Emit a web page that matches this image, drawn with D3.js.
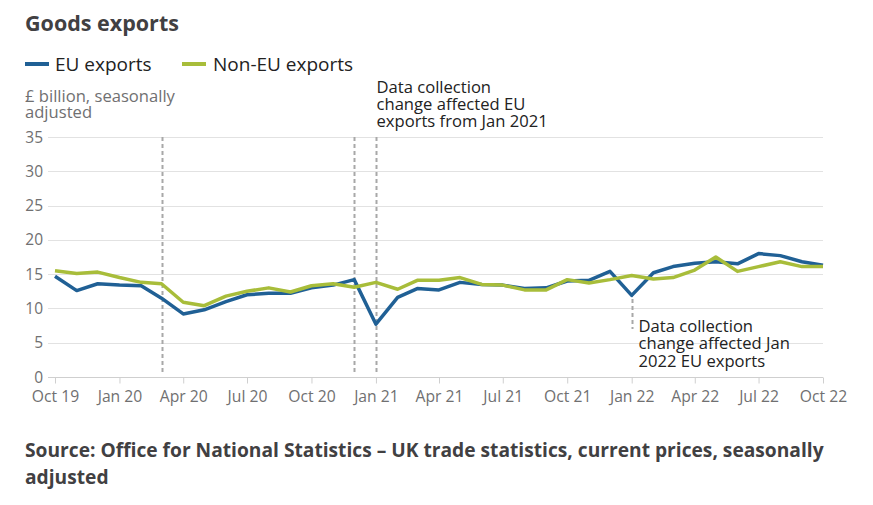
<!DOCTYPE html>
<html>
<head>
<meta charset="utf-8">
<script src="https://cdn.jsdelivr.net/npm/d3@7"></script>
<style>
  html, body { margin: 0; padding: 0; background: #fff; }
  svg { display: block; font-family: "Open Sans", sans-serif; }
</style>
</head>
<body>
<svg id="chart" width="873" height="505"></svg>
<script>
// ---- Data ----
const months = [
  "2019-10","2019-11","2019-12","2020-01","2020-02","2020-03","2020-04","2020-05","2020-06",
  "2020-07","2020-08","2020-09","2020-10","2020-11","2020-12","2021-01","2021-02","2021-03",
  "2021-04","2021-05","2021-06","2021-07","2021-08","2021-09","2021-10","2021-11","2021-12",
  "2022-01","2022-02","2022-03","2022-04","2022-05","2022-06","2022-07","2022-08","2022-09","2022-10"
];
const euExports = [
  14.7,12.6,13.6,13.4,13.3,11.5,9.2,9.8,11.0,
  12.0,12.2,12.2,13.0,13.4,14.2,7.7,11.6,12.9,
  12.7,13.8,13.5,13.4,12.9,13.0,14.0,14.1,15.4,
  11.9,15.2,16.1,16.6,16.8,16.5,18.0,17.7,16.8,16.3
];
const nonEuExports = [
  15.5,15.1,15.3,14.5,13.8,13.6,10.9,10.4,11.8,
  12.5,13.0,12.4,13.3,13.6,13.1,13.8,12.8,14.1,
  14.1,14.5,13.5,13.4,12.7,12.7,14.2,13.7,14.2,
  14.8,14.3,14.5,15.6,17.5,15.4,16.1,16.8,16.1,16.1
];
const yTicks = [0,5,10,15,20,25,30,35];
const xTickMonths = ["2019-10","2020-01","2020-04","2020-07","2020-10","2021-01","2021-04","2021-07","2021-10","2022-01","2022-04","2022-07","2022-10"];
const xTickLabels = ["Oct 19","Jan 20","Apr 20","Jul 20","Oct 20","Jan 21","Apr 21","Jul 21","Oct 21","Jan 22","Apr 22","Jul 22","Oct 22"];
const seriesNames = ["EU exports","Non-EU exports"];
const markerMonths = ["2020-03","2020-12","2021-01"];
const jan22Marker = "2022-01";
const annotation1 = ["Data collection","change affected EU","exports from Jan 2021"];
const annotation2 = ["Data collection","change affected Jan","2022 EU exports"];
const titleText = "Goods exports";
const unitLines = ["£ billion, seasonally","adjusted"];
const sourceLines = ["Source: Office for National Statistics – UK trade statistics, current prices, seasonally","adjusted"];

// ---- Setup ----
const parse = d3.timeParse("%Y-%m");
const colors = ["#206095", "#a8bd3a"];
const svg = d3.select("#chart");

const x = d3.scaleTime()
  .domain([parse(months[0]), parse(months[months.length-1])])
  .range([55, 823]);
const y = d3.scaleLinear().domain([0, 35]).range([377, 137]);

// Title
svg.append("text").attr("x", 25).attr("y", 31)
  .attr("font-size", 21.5).attr("font-weight", 700).attr("fill", "#414042")
  .text(titleText);

// Legend
const legendX = [[25, 55], [182, 213]];
seriesNames.forEach((n, i) => {
  svg.append("line").attr("x1", legendX[i][0]).attr("x2", legendX[i][0] + 24)
    .attr("y1", 64).attr("y2", 64).attr("stroke", colors[i]).attr("stroke-width", 4);
  svg.append("text").attr("x", legendX[i][1]).attr("y", 70.5)
    .attr("font-size", 19).attr("fill", "#222").text(n);
});

// Unit label
unitLines.forEach((t, i) => {
  svg.append("text").attr("x", 25).attr("y", 101.5 + i * 16.5)
    .attr("font-size", 16.6).attr("fill", "#707071").text(t);
});

// Gridlines + y labels
const yAxis = svg.append("g");
yTicks.forEach(v => {
  yAxis.append("line").attr("x1", 48).attr("x2", 823)
    .attr("y1", Math.round(y(v)) + 0.5).attr("y2", Math.round(y(v)) + 0.5)
    .attr("stroke", v === 0 ? "#cfcfcf" : "#e2e2e2").attr("stroke-width", 1);
  yAxis.append("text").attr("x", 43).attr("y", y(v) + 5.5)
    .attr("text-anchor", "end").attr("font-size", 15.5).attr("fill", "#707071")
    .text(v);
});

// X axis
const xAxis = d3.axisBottom(x)
  .tickValues(xTickMonths.map(parse))
  .tickFormat((d, i) => xTickLabels[i])
  .tickSize(6).tickSizeOuter(0);
const gx = svg.append("g").attr("transform", "translate(0,377.5)").call(xAxis);
gx.select(".domain").remove();
gx.selectAll(".tick line").attr("stroke", "#cfcfcf");
gx.selectAll(".tick text").attr("font-size", 15.7).attr("fill", "#707071")
  .attr("font-family", "Open Sans, sans-serif").attr("dy", "0").attr("y", 24);

// Vertical dashed markers
markerMonths.forEach(m => {
  const xx = Math.round(x(parse(m))) + 0.5;
  svg.append("line").attr("x1", xx).attr("x2", xx).attr("y1", 137).attr("y2", 373)
    .attr("stroke", "#a8a8a8").attr("stroke-width", 2).attr("stroke-dasharray", "4,3");
});
{
  const xx = Math.round(x(parse(jan22Marker))) + 0.5;
  svg.append("line").attr("x1", xx).attr("x2", xx).attr("y1", 299).attr("y2", 329)
    .attr("stroke", "#a8a8a8").attr("stroke-width", 2).attr("stroke-dasharray", "4,3");
}

// Lines
const line = d3.line().x((d, i) => x(parse(months[i]))).y(d => y(d));
[euExports, nonEuExports].forEach((s, i) => {
  svg.append("path").datum(s).attr("d", line).attr("fill", "none")
    .attr("stroke", colors[i]).attr("stroke-width", 3.5)
    .attr("stroke-linejoin", "round").attr("stroke-linecap", "butt");
});

// Annotations
annotation1.forEach((t, i) => {
  svg.append("text").attr("x", 376.5).attr("y", 92.5 + i * 17.2)
    .attr("font-size", 16.6).attr("fill", "#222").text(t);
});
annotation2.forEach((t, i) => {
  svg.append("text").attr("x", 638.5).attr("y", 331.5 + i * 17.5)
    .attr("font-size", 16.6).attr("fill", "#222").text(t);
});

// Source
sourceLines.forEach((t, i) => {
  svg.append("text").attr("x", 25).attr("y", 457 + i * 27)
    .attr("font-size", 19.2).attr("font-weight", 700).attr("fill", "#414042").text(t);
});
</script>
</body>
</html>
